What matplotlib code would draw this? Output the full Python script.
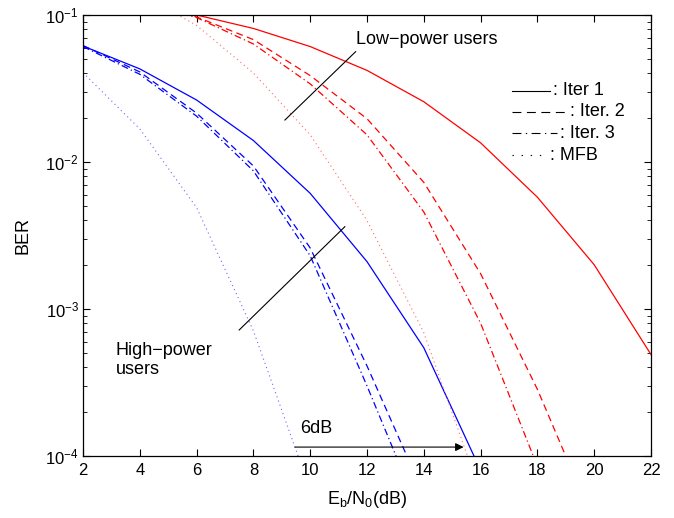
import matplotlib
matplotlib.use("Agg")
import matplotlib.pyplot as plt
from matplotlib.ticker import LogLocator, NullFormatter

plt.rcParams['font.family'] = ['Liberation Sans', 'DejaVu Sans']
plt.rcParams['mathtext.fontset'] = 'custom'
plt.rcParams['mathtext.rm'] = 'Liberation Sans'
plt.rcParams['mathtext.it'] = 'Liberation Sans'

# Eb/N0 grid (dB)
snr = [2, 4, 6, 8, 10, 12, 14, 16, 18, 20, 22]

# high-power users (blue)
hi_iter1 = [0.0615, 0.043, 0.0264, 0.0140, 0.00612, 0.0021, 5.45e-4, 8.0e-5]
hi_iter2 = [0.062, 0.041, 0.0215, 0.0094, 0.0026, 4.1e-4, 5.5e-5]
hi_iter3 = [0.061, 0.0395, 0.0205, 0.0087, 0.0023, 3.0e-4, 3.5e-5]
hi_mfb = [0.0405, 0.0168, 0.0049, 7.1e-4, 5.9e-5]

# low-power users (red)
lo_snr = [4, 6, 8, 10, 12, 14, 16, 18, 20, 22]
lo_iter1 = [0.12, 0.100, 0.081, 0.061, 0.042, 0.0257, 0.0135, 0.00576, 0.0020, 4.9e-4]
lo_iter2 = [0.12, 0.097, 0.068, 0.0387, 0.0197, 0.00727, 0.00174, 2.84e-4, 3.5e-5]
lo_iter3 = [0.12, 0.096, 0.0635, 0.034, 0.0153, 0.00457, 8.0e-4, 8.5e-5]
lo_mfb = [0.14, 0.085, 0.0403, 0.0153, 0.0040, 6.9e-4, 5.6e-5]

legend_labels = [': Iter 1', ': Iter. 2', ': Iter. 3', ': MFB']

fig = plt.figure(figsize=(6.74, 5.18), dpi=100)
ax = fig.add_axes([83 / 674, 1 - 456 / 518, 568 / 674, 441 / 518])

dash = (0, (5.5, 3.5))
dashdot = (0, (5.5, 2.5, 1, 2.5))
dot = (0, (1, 3))
lw = 0.9

ax.plot(snr[:len(hi_iter1)], hi_iter1, color='blue', lw=lw, ls='-')
ax.plot(snr[:len(hi_iter2)], hi_iter2, color='blue', lw=lw, ls=dash)
ax.plot(snr[:len(hi_iter3)], hi_iter3, color='blue', lw=lw, ls=dashdot)
ax.plot(snr[:len(hi_mfb)], hi_mfb, color='#6a6aff', lw=0.8, ls=dot)

ax.plot(lo_snr[:len(lo_iter1)], lo_iter1, color='red', lw=lw, ls='-')
ax.plot(lo_snr[:len(lo_iter2)], lo_iter2, color='red', lw=lw, ls=dash)
ax.plot(lo_snr[:len(lo_iter3)], lo_iter3, color='red', lw=lw, ls=dashdot)
ax.plot(lo_snr[:len(lo_mfb)], lo_mfb, color='#ff6a6a', lw=0.8, ls=dot)

ax.set_yscale('log')
ax.set_xlim(2, 22)
ax.set_ylim(1e-4, 1e-1)
ax.set_xticks(range(2, 23, 2))
ax.yaxis.set_minor_locator(LogLocator(base=10, subs=range(2, 10)))
ax.yaxis.set_minor_formatter(NullFormatter())
ax.tick_params(which='both', direction='in', top=True, right=True, labelsize=12)
ax.tick_params(which='major', length=5, width=0.8)
ax.tick_params(which='minor', length=3, width=0.6)
ax.tick_params(axis='x', pad=5)
ax.tick_params(axis='y', pad=3)
for s in ax.spines.values():
    s.set_linewidth(0.9)

ax.set_ylabel('BER', fontsize=13, labelpad=10)
ax.set_xlabel(r'$\mathrm{E_b/N_0}$(dB)', fontsize=13, labelpad=8)

# annotations
ax.plot([9.11, 11.6], [0.0193, 0.0563], color='black', lw=0.8)
ax.text(11.63, 0.0676, 'Low\u2212power users', fontsize=13, va='center', ha='left')
ax.plot([7.5, 11.22], [7.2e-4, 0.00363], color='black', lw=0.8)
ax.text(3.15, 4.5e-4, 'High\u2212power\nusers', fontsize=13, va='center', ha='left',
        linespacing=1.1)
ax.text(9.64, 1.53e-4, '6dB', fontsize=13, va='center', ha='left')
ax.annotate('', xy=(15.4, 1.15e-4), xytext=(9.46, 1.15e-4),
            arrowprops=dict(arrowstyle='-|>', color='black', lw=0.8,
                            mutation_scale=12, shrinkA=0, shrinkB=0))

# legend drawn as line samples + text
leg_styles = ['-', (0, (8, 5)), (0, (8, 4, 1.2, 4)), (0, (1.2, 7))]
x0 = (511.7 - 83) / 568
ends = [550, 566.7, 556.7, 546.7]
rows = [90.7, 111.7, 133.3, 155]
for lab, st, xe, yr in zip(legend_labels, leg_styles, ends, rows):
    yf = (456 - yr) / 441
    ax.plot([x0, (xe - 83) / 568], [yf, yf], color='black', lw=0.8, ls=st,
            transform=ax.transAxes)
    ax.text((xe - 83) / 568 + 0.006, yf, lab, fontsize=13, va='center', ha='left',
            transform=ax.transAxes)

fig.savefig('out.png', dpi=100)
